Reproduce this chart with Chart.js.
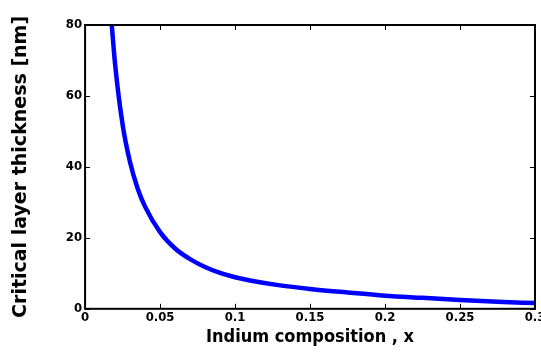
<!DOCTYPE html>
<html>
<head>
<meta charset="utf-8">
<script src="https://cdn.jsdelivr.net/npm/chart.js@4.4.1/dist/chart.umd.min.js"></script>
<style>
  html, body { margin: 0; padding: 0; background: #fff; overflow: hidden; }
  #wrap { width: 560px; height: 354px; position: relative; }
</style>
</head>
<body>
<div id="wrap"><canvas id="chart"></canvas></div>
<script>
// indium composition x and critical layer thickness (nm)
const composition = [0.0178, 0.02, 0.025, 0.03, 0.035, 0.04, 0.05, 0.06, 0.07, 0.08,
    0.09, 0.1, 0.11, 0.13, 0.15, 0.175, 0.2, 0.225, 0.25, 0.275, 0.3];
const thickness = [80, 69, 52, 41.3, 34, 28.8, 21.6, 17, 14, 11.8,
    10.1, 8.9, 8.0, 6.6, 5.6, 4.6, 3.7, 3.1, 2.5, 2.0, 1.6];
const xTicks = [0, 0.05, 0.1, 0.15, 0.2, 0.25, 0.3];
const yTicks = [0, 20, 40, 60, 80];

// box around plot + inward ticks on all four sides
const boxTicks = {
    id: "boxTicks",
    afterDraw(c) {
        const { ctx, chartArea: a, scales } = c;
        const len = 5;
        ctx.save();
        ctx.strokeStyle = "#000";
        ctx.lineWidth = 1;
        xTicks.forEach(v => {
            const px = Math.round(scales.x.getPixelForValue(v)) + 0.5;
            ctx.beginPath();
            ctx.moveTo(px, a.bottom); ctx.lineTo(px, a.bottom - len);
            ctx.moveTo(px, a.top); ctx.lineTo(px, a.top + len);
            ctx.stroke();
        });
        yTicks.forEach(v => {
            const py = Math.round(scales.y.getPixelForValue(v)) + 0.5;
            ctx.beginPath();
            ctx.moveTo(a.left, py); ctx.lineTo(a.left + len, py);
            ctx.moveTo(a.right, py); ctx.lineTo(a.right - len, py);
            ctx.stroke();
        });
        ctx.lineWidth = 2;
        ctx.strokeRect(a.left, a.top, a.right - a.left, a.bottom - a.top);
        ctx.restore();
    }
};

const narrow = "'DejaVu Sans Condensed', 'Liberation Sans Narrow', 'Open Sans', sans-serif";
const tickFont = { family: narrow, size: 13, weight: "bold" };

new Chart(document.getElementById("chart"), {
    type: "line",
    data: {
        datasets: [{
            data: composition.map((x, i) => ({ x: x, y: thickness[i] })),
            borderColor: "#0000ff",
            borderWidth: 4.5,
            pointRadius: 0,
            fill: false,
            cubicInterpolationMode: "monotone"
        }]
    },
    options: {
        responsive: true,
        maintainAspectRatio: false,
        animation: false,
        layout: { padding: { left: 10, top: 25, right: 25, bottom: 6 } },
        plugins: { legend: { display: false }, tooltip: { enabled: false } },
        scales: {
            x: {
                type: "linear",
                min: 0, max: 0.3,
                afterBuildTicks: s => { s.ticks = xTicks.map(v => ({ value: v })); },
                ticks: {
                    color: "#000", font: tickFont, padding: 1, maxRotation: 0,
                    callback: v => String(parseFloat(v.toFixed(2)))
                },
                grid: { display: false, drawTicks: false },
                border: { display: false },
                title: {
                    display: true, text: "Indium composition , x", color: "#000",
                    font: { family: narrow, size: 18, weight: "bold" },
                    padding: { top: 0, bottom: 0 }
                }
            },
            y: {
                min: 0, max: 80,
                afterBuildTicks: s => { s.ticks = yTicks.map(v => ({ value: v })); },
                ticks: { color: "#000", font: tickFont, padding: 3 },
                grid: { display: false, drawTicks: false },
                border: { display: false },
                title: {
                    display: true, text: "Critical layer thickness [nm]", color: "#000",
                    font: { family: "'DejaVu Sans', sans-serif", size: 19, weight: "bold" },
                    padding: { top: 0, bottom: 30 }
                }
            }
        }
    },
    plugins: [boxTicks]
});
</script>
</body>
</html>
